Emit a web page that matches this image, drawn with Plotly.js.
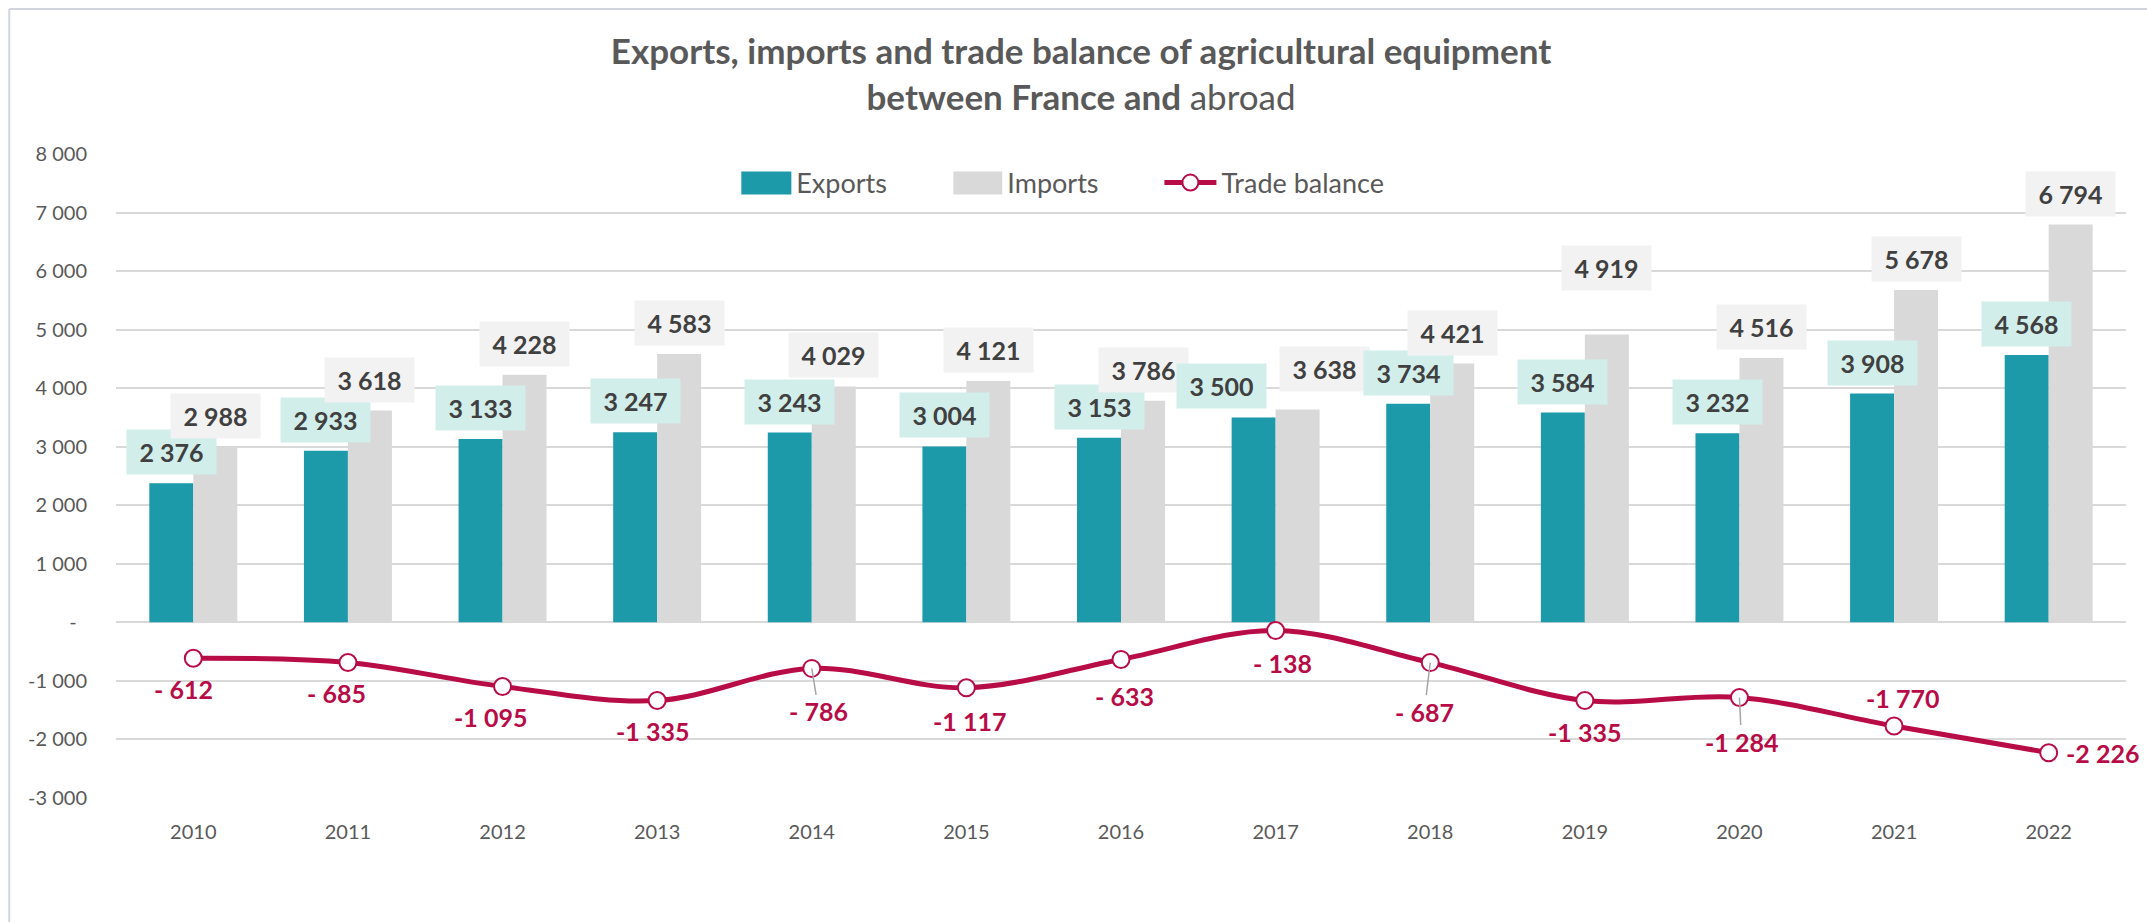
<!DOCTYPE html>
<html>
<head>
<meta charset="utf-8">
<script src="https://cdn.plot.ly/plotly-3.0.1.min.js"></script>
<style>
  html, body { margin: 0; padding: 0; background: #ffffff; }
  #chart { width: 2147px; height: 922px; }
</style>
</head>
<body>
<div id="chart"></div>
<script>
// ---------- data ----------
const years = ['2010','2011','2012','2013','2014','2015','2016','2017','2018','2019','2020','2021','2022'];
const exportsVals = [2376, 2933, 3133, 3247, 3243, 3004, 3153, 3500, 3734, 3584, 3232, 3908, 4568];
const importsVals = [2988, 3618, 4228, 4583, 4029, 4121, 3786, 3638, 4421, 4919, 4516, 5678, 6794];
const balanceVals = [-612, -685, -1095, -1335, -786, -1117, -633, -138, -687, -1335, -1284, -1770, -2226];
const yTickVals = [-3000, -2000, -1000, 0, 1000, 2000, 3000, 4000, 5000, 6000, 7000, 8000];
const yTickText = ['-3 000', '-2 000', '-1 000', '-\u00a0\u00a0', '1 000', '2 000', '3 000', '4 000', '5 000', '6 000', '7 000', '8 000'];
const seriesNames = ['Exports', 'Imports', 'Trade balance'];

// ---------- label placement (pixel nudges, not data) ----------
const expNudge = { '2017': [-32, 0] };           // [dx, dy] extra
const impNudge = { '2017': [27, -9], '2019': [0, -35] };
const balOffsets = [[-10,31],[-11,31],[-12,31],[-5,30],[7,43],[3,33],[3,37],[7,33],[-6,49],[0,31],[2,44],[8,-28],[54,0]];
const leaderIdx = [4, 8, 10];

// ---------- styles ----------
const C_EXP = '#1D9AAA', C_IMP = '#D9D9D9', C_BAL = '#B80C47';
const FONT = 'Lato, "Open Sans", sans-serif';

function fmt(v) {
  const a = Math.abs(v);
  const s = String(a).replace(/\B(?=(\d{3})+(?!\d))/g, ' ');
  if (v < 0) return a < 1000 ? '- ' + s : '-' + s;
  return s;
}

const traces = [
  { type: 'bar', name: seriesNames[0], x: years, y: exportsVals, marker: { color: C_EXP }, hoverinfo: 'x+y', legend: 'legend' },
  { type: 'bar', name: seriesNames[1], x: years, y: importsVals, marker: { color: C_IMP }, hoverinfo: 'x+y', legend: 'legend2' },
  { type: 'scatter', mode: 'lines+markers', name: seriesNames[2], x: years, y: balanceVals,
    line: { color: C_BAL, width: 5, shape: 'spline', smoothing: 1 },
    marker: { symbol: 'circle', size: 17, color: '#ffffff', line: { color: C_BAL, width: 2 } },
    hoverinfo: 'x+y', legend: 'legend3' }
];

const annotations = [];
years.forEach((yr, i) => {
  const en = expNudge[yr] || [0, 0];
  annotations.push({
    x: i, y: exportsVals[i], xref: 'x', yref: 'y', showarrow: false,
    text: '<b>' + fmt(exportsVals[i]) + '</b>',
    xshift: -22 + en[0], yshift: 8 - en[1], yanchor: 'bottom', xanchor: 'center',
    width: 81, height: 36, borderpad: 4, bgcolor: '#D1EEEA',
    font: { family: FONT, size: 25, color: '#404040' }
  });
  const inn = impNudge[yr] || [0, 0];
  annotations.push({
    x: i, y: importsVals[i], xref: 'x', yref: 'y', showarrow: false,
    text: '<b>' + fmt(importsVals[i]) + '</b>',
    xshift: 22 + inn[0], yshift: 8 - inn[1], yanchor: 'bottom', xanchor: 'center',
    width: 81, height: 36, borderpad: 4, bgcolor: '#F2F2F2',
    font: { family: FONT, size: 25, color: '#404040' }
  });
  const o = balOffsets[i];
  if (leaderIdx.indexOf(i) >= 0) {
    annotations.push({
      x: i, y: balanceVals[i], xref: 'x', yref: 'y', showarrow: true,
      ax: o[0], ay: o[1], arrowhead: 0, arrowwidth: 1.5, arrowcolor: '#A6A6A6', standoff: 0,
      text: '<b>' + fmt(balanceVals[i]) + '</b>',
      font: { family: FONT, size: 25, color: C_BAL }
    });
  } else {
    annotations.push({
      x: i, y: balanceVals[i], xref: 'x', yref: 'y', showarrow: false,
      xshift: o[0], yshift: -o[1], xanchor: 'center', yanchor: 'middle',
      text: '<b>' + fmt(balanceVals[i]) + '</b>',
      font: { family: FONT, size: 25, color: C_BAL }
    });
  }
});

function legendAt(xPaper) {
  return {
    orientation: 'h', x: xPaper, xanchor: 'left', y: 0.955, yanchor: 'middle',
    font: { family: FONT, size: 27, color: '#595959' },
    bgcolor: 'rgba(0,0,0,0)', itemwidth: 52
  };
}

const layout = {
  width: 2147, height: 922,
  margin: { l: 116, r: 21, t: 154, b: 124, pad: 0 },
  paper_bgcolor: '#ffffff', plot_bgcolor: '#ffffff',
  font: { family: FONT, color: '#595959' },
  title: {
    text: '<b>Exports, imports and trade balance of agricultural equipment<br>between France and </b>abroad',
    font: { family: FONT, size: 35, color: '#595959' },
    xref: 'container', x: 0.5035, xanchor: 'center',
    yref: 'container', y: 1 - 64 / 922, yanchor: 'middle'
  },
  barmode: 'group', bargap: 0.431, bargroupgap: 0,
  xaxis: {
    type: 'category', categoryorder: 'array', categoryarray: years,
    range: [-0.5, years.length - 0.5], autorange: false,
    showgrid: false, zeroline: false, showline: false,
    ticks: '', tickfont: { family: FONT, size: 20, color: '#595959' },
    ticklabelstandoff: 20, fixedrange: true
  },
  yaxis: {
    range: [-3000, 8000], autorange: false, tickvals: yTickVals, ticktext: yTickText,
    showgrid: true, gridcolor: '#D9D9D9', gridwidth: 2,
    zeroline: true, zerolinecolor: '#D9D9D9', zerolinewidth: 2,
    showline: false, ticks: '', ticklabelstandoff: 28,
    tickfont: { family: FONT, size: 20, color: '#595959' }, fixedrange: true
  },
  showlegend: true,
  legend: legendAt(0.3076),
  legend2: legendAt(0.4126),
  legend3: legendAt(0.5191),
  annotations: annotations,
  shapes: [
    // wider legend swatches (Excel-style rectangles)
    { type: 'rect', xref: 'paper', yref: 'paper', x0: 0.3111, x1: 0.3360, y0: 0.9372, y1: 0.9729, fillcolor: C_EXP, line: { width: 0 }, layer: 'above' },
    { type: 'rect', xref: 'paper', yref: 'paper', x0: 0.4166, x1: 0.4409, y0: 0.9372, y1: 0.9729, fillcolor: C_IMP, line: { width: 0 }, layer: 'above' },
    // chart border
    { type: 'line', xref: 'paper', yref: 'paper', x0: -0.0531, x1: -0.0531, y0: 1.225, y1: -0.3, line: { color: '#D0D4DE', width: 2 } },
    { type: 'line', xref: 'paper', yref: 'paper', x0: -0.0531, x1: 1.2, y0: 1.225, y1: 1.225, line: { color: '#D0D4DE', width: 2 } }
  ]
};

Plotly.newPlot('chart', traces, layout, { displayModeBar: false, responsive: false });
</script>
</body>
</html>
